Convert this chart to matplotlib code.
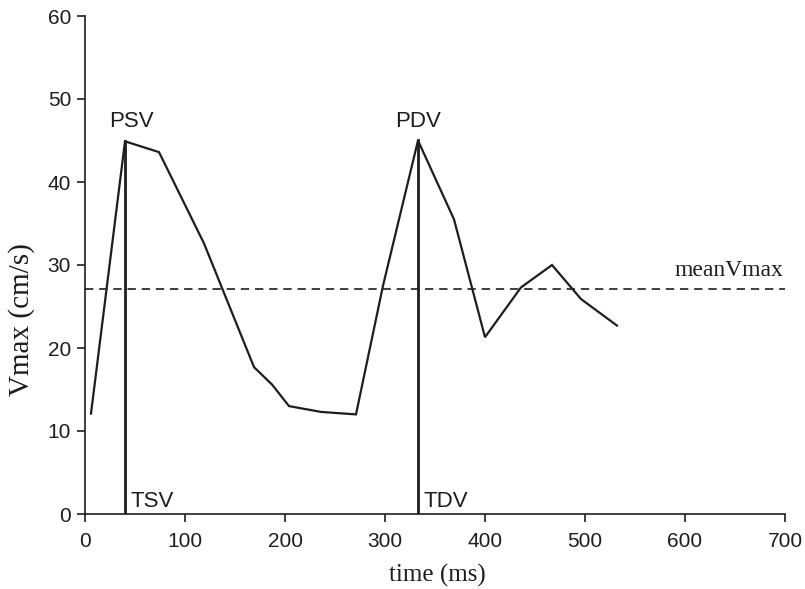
import matplotlib
matplotlib.use("Agg")
import matplotlib.pyplot as plt

# Vmax waveform
time_ms = [6, 40, 74, 119, 169, 187, 204, 236, 271, 298, 333, 369, 400, 436, 467, 496, 532]
vmax = [12.1, 44.9, 43.6, 32.6, 17.7, 15.6, 13.0, 12.3, 12.0, 27.5, 45.0, 35.5, 21.3, 27.3, 30.0, 25.9, 22.7]

tsv, psv = 40, 44.9
tdv, pdv = 333, 45.0
mean_vmax = 27.1

x_ticks = [0, 100, 200, 300, 400, 500, 600, 700]
y_ticks = [0, 10, 20, 30, 40, 50, 60]

ink = "#1e1e1e"
sans = ["Liberation Sans", "DejaVu Sans"]
serif = ["Liberation Serif", "DejaVu Serif"]

fig = plt.figure(figsize=(8.05, 5.89), dpi=100)
ax = fig.add_axes([85 / 805, 1 - 514 / 589, 700 / 805, 498 / 589])

ax.plot(time_ms, vmax, color=ink, lw=1.6, solid_joinstyle="miter")
ax.plot([tsv, tsv], [0, psv], color=ink, lw=2.0)
ax.plot([tdv, tdv], [0, pdv], color=ink, lw=2.0)
ax.plot([0, 700], [mean_vmax, mean_vmax], color=ink, lw=1.2, ls=(0, (5, 3.5)))

ax.text(46, 46.6, "PSV", ha="center", va="baseline", fontsize=16, family=sans, color=ink)
ax.text(333, 46.6, "PDV", ha="center", va="baseline", fontsize=16, family=sans, color=ink)
ax.text(tsv + 5, 0.9, "TSV", ha="left", va="baseline", fontsize=16, family=sans, color=ink)
ax.text(tdv + 5, 0.9, "TDV", ha="left", va="baseline", fontsize=16, family=sans, color=ink)
ax.text(698, 28.7, "meanVmax", ha="right", va="baseline", fontsize=17, family=serif, color=ink)

ax.set_xlim(0, 700)
ax.set_ylim(0, 60)
ax.set_xticks(x_ticks)
ax.set_yticks(y_ticks)
for s in ["top", "right"]:
    ax.spines[s].set_visible(False)
for s in ["left", "bottom"]:
    ax.spines[s].set_linewidth(1.2)
    ax.spines[s].set_color(ink)
ax.tick_params(direction="out", length=6, width=1.2, color=ink, pad=4, labelsize=15, labelcolor=ink)
ax.tick_params(axis="x", pad=7)
for lab in ax.get_xticklabels() + ax.get_yticklabels():
    lab.set_family(sans)

ax.set_xlabel("time (ms)", fontsize=18, family=serif, color=ink)
ax.set_ylabel("Vmax (cm/s)", fontsize=21, family=serif, color=ink)
ax.xaxis.set_label_coords(0.503, -0.1)
ax.yaxis.set_label_coords(-0.071, 0.39)

fig.savefig("out.png", dpi=100)
